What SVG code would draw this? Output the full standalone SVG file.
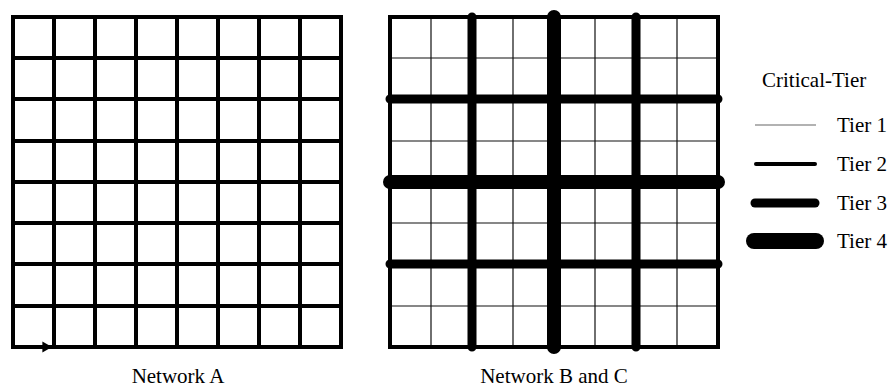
<svg xmlns="http://www.w3.org/2000/svg" width="893" height="388" viewBox="0 0 893 388">
<style>
.g{stroke:#000;stroke-width:4;fill:none;stroke-linecap:square}
.t1{stroke:#111;stroke-width:1.2;fill:none}
.t2{stroke:#000;stroke-width:4;fill:none;stroke-linecap:square}
.t3{stroke:#000;stroke-width:9;fill:none;stroke-linecap:round}
.t4{stroke:#000;stroke-width:14;fill:none;stroke-linecap:round}
.lbl{font-family:"Liberation Serif","DejaVu Serif",serif;font-size:21px;fill:#000}
</style>
<defs>
<marker id="ah" markerWidth="2.4" markerHeight="2.8" refX="2.4" refY="1.4" orient="auto" markerUnits="strokeWidth">
<path d="M0,0 L2.4,1.4 L0,2.8 Z" fill="#000"/>
</marker>
</defs>
<rect width="893" height="388" fill="#fff"/>
<g id="networkA">
<path class="g" d="M13,17V347M54,17V347M95,17V347M136,17V347M177,17V347M218,17V347M259,17V347M300,17V347M341,17V347"/>
<path class="g" d="M13,17H341M13,58H341M13,99H341M13,141H341M13,182H341M13,223H341M13,264H341M13,306H341M52,347H341"/>
<path d="M13,347H52" stroke="#000" stroke-width="4" fill="none" marker-end="url(#ah)"/>
</g>
<g id="networkBC">
<path class="t1" d="M431,17V347M513,17V347M595,17V347M677,17V347M390,58H718M390,141H718M390,223H718M390,306H718"/>
<rect class="t2" x="390" y="17" width="328" height="330"/>
<path class="t3" d="M472,17V347M636,17V347M390,99H718M390,264H718"/>
<path class="t4" d="M554,17V347M390,182H718"/>
</g>
<g id="legend">
<text class="lbl" x="762" y="87">Critical-Tier</text>
<line x1="755" y1="125" x2="816" y2="125" stroke="#666" stroke-width="1.2"/>
<text class="lbl" x="837" y="132">Tier 1</text>
<line x1="756" y1="164" x2="815" y2="164" stroke="#000" stroke-width="4" stroke-linecap="round"/>
<text class="lbl" x="837" y="171">Tier 2</text>
<line x1="755" y1="203" x2="815" y2="203" class="t3" stroke-width="10"/>
<text class="lbl" x="837" y="210">Tier 3</text>
<line x1="754" y1="241" x2="816" y2="241" stroke="#000" stroke-width="16" stroke-linecap="round"/>
<text class="lbl" x="837" y="248">Tier 4</text>
</g>
<g id="labels">
<text class="lbl" x="178" y="383" text-anchor="middle">Network A</text>
<text class="lbl" x="554" y="383" text-anchor="middle">Network B and C</text>
</g>
</svg>
